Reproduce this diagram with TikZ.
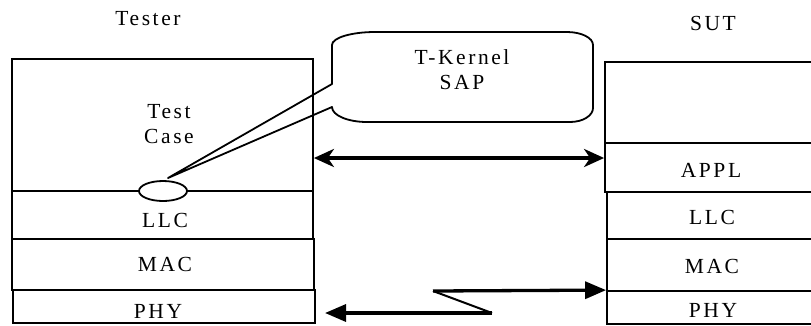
\documentclass[tikz,border=0pt]{standalone}
\usepackage{fontspec}
\setmainfont{Liberation Serif}[LetterSpace=12]
\usetikzlibrary{shapes.geometric,arrows.meta}
\tikzset{
  layer/.style={draw, line width=1.8pt, inner sep=0pt},
  lbl/.style={anchor=base, inner sep=0pt, font=\fontsize{21.5}{25}\selectfont},
  sapoval/.style={ellipse, draw, fill=white, line width=1.8pt, inner sep=0pt,
    minimum width=48pt, minimum height=20pt},
  balloon/.style={draw, line width=1.8pt, line join=round},
  flow/.style={line width=3.5pt, {Stealth[length=20pt,width=18pt,inset=6pt]}-{Stealth[length=20pt,width=18pt,inset=6pt]}},
  radio/.style={line width=3.3pt, -{Triangle[length=21pt,width=17pt]}},
  zig/.style={line width=2pt}
}
\begin{document}
\begin{tikzpicture}[x=1pt,y=-1pt]
\useasboundingbox (0,0) rectangle (811,325);

% Tester protocol stack
\node[layer, minimum width=301pt, minimum height=132pt] (tc)  at (162.5,125) {};
\node[layer, minimum width=301pt, minimum height=48pt]  (tllc) at (162.5,215) {};
\node[layer, minimum width=302pt, minimum height=51pt]  (tmac) at (163,264.5) {};
\node[layer, minimum width=302pt, minimum height=33pt]  (tphy) at (164,306.5) {};

% SUT protocol stack (runs off the right edge)
\node[layer, minimum width=230pt, minimum height=81pt] (sup)  at (720,102.5) {};
\node[layer, minimum width=230pt, minimum height=49pt] (appl) at (720,167.5) {};
\node[layer, minimum width=228pt, minimum height=47pt] (sllc) at (721,215.5) {};
\node[layer, minimum width=228pt, minimum height=52pt] (smac) at (721,265) {};
\node[layer, minimum width=228pt, minimum height=33pt] (sphy) at (721,307.5) {};

% Headings and layer names
\node[lbl] (tester) at (148,25) {Tester};
\node[lbl] (sut)    at (713,30) {SUT};
\node[lbl] (test)   at (169,118) {Test};
\node[lbl] (case)   at (169,143) {Case};
\node[lbl] at (165,227) {LLC};
\node[lbl] at (165,271) {MAC};
\node[lbl] at (158,318) {PHY};
\node[lbl] at (711,177) {APPL};
\node[lbl] at (712,224) {LLC};
\node[lbl] at (712,273) {MAC};
\node[lbl] at (713,317) {PHY};

% Service access point and its callout
\node[sapoval] (sap) at (163,191) {};
\coordinate (tip) at (168,178);
\draw[balloon] (332,84) -- (332,45)
  .. controls (332,37.8) and (351.3,32) .. (375,32) -- (567,32)
  .. controls (581.4,32) and (593,37.8) .. (593,45) -- (593,108)
  .. controls (593,115.7) and (582.7,122) .. (570,122) -- (367,122)
  .. controls (347.7,122) and (332,115.3) .. (332,107)
  -- (tip) -- cycle;
\node[lbl] (tk)  at (462,64) {T-Kernel};
\node[lbl] (sap2) at (462,89) {SAP};

% Upper tester to application exchange
\draw[flow] (tc.east |- 0,158) -- (sup.west |- 0,158);

% Radio link over the physical layer
\coordinate (z1) at (433,291);
\coordinate (z2) at (492,313);
\draw[radio] (z1) -- (sphy.north west);
\draw[zig] (z1) -- (z2);
\draw[radio] (z2) -- (325,313);
\end{tikzpicture}
\end{document}
